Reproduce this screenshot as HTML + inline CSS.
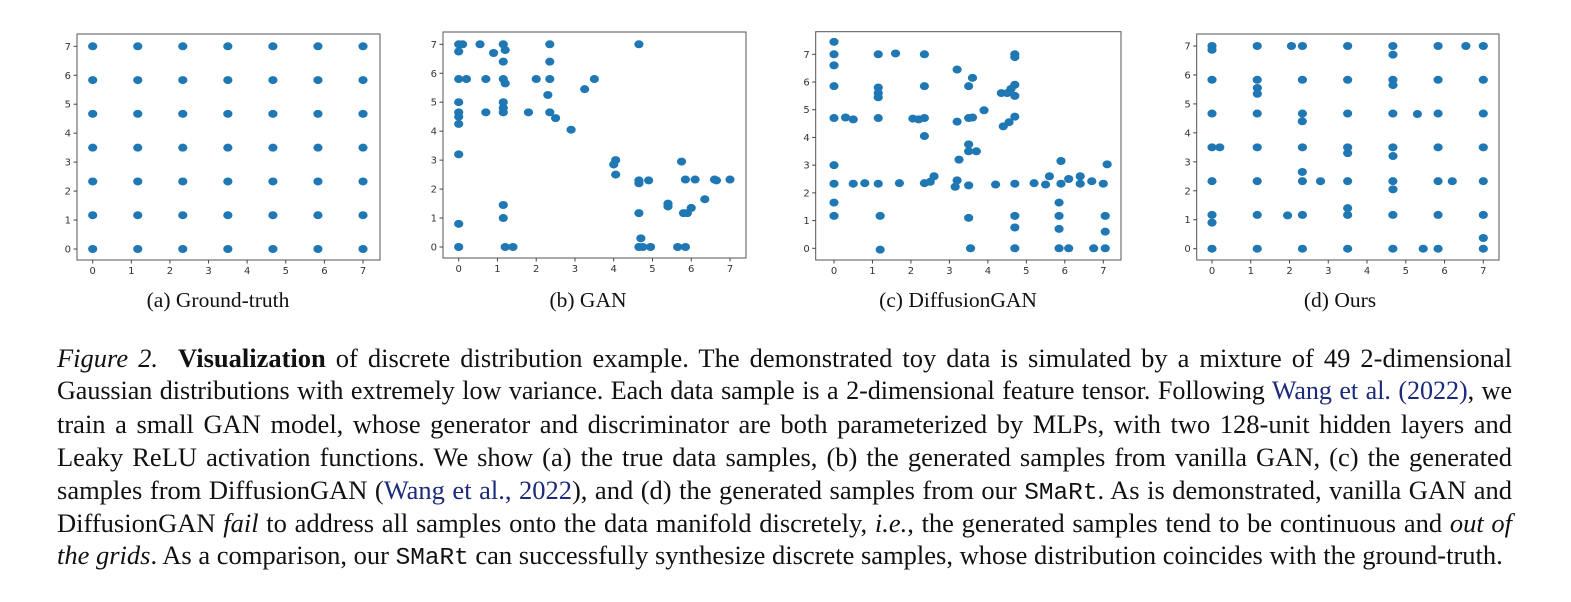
<!DOCTYPE html>
<html><head><meta charset="utf-8">
<style>
body{margin:0;background:#fff;width:1571px;height:602px;overflow:hidden;position:relative;font-family:"Liberation Serif",serif;}
#fig{position:absolute;left:0;top:0;}
.sub{position:absolute;font-size:21.5px;color:#111;transform:translateX(-50%);white-space:nowrap;top:288px;}
.ln{position:absolute;left:57px;width:1455px;font-size:26.5px;color:#111;white-space:nowrap;text-align:justify;text-align-last:justify;line-height:28px;}
.ln.last{text-align-last:left;}
.mono{font-family:"Liberation Mono",monospace;font-size:24.4px;}
.lk{color:#1b2a7a;}
</style></head><body>
<svg id="fig" width="1571" height="602"></svg>
<div class="sub" style="left:218px">(a) Ground-truth</div>
<div class="sub" style="left:588px">(b) GAN</div>
<div class="sub" style="left:958px">(c) DiffusionGAN</div>
<div class="sub" style="left:1340px">(d) Ours</div>
<div>
<div class="ln" style="top:344px"><i>Figure 2.</i>&nbsp; <b>Visualization</b> of discrete distribution example. The demonstrated toy data is simulated by a mixture of 49 2-dimensional</div>
<div class="ln" style="top:377px;font-size:26.1px;letter-spacing:-0.05px">Gaussian distributions with extremely low variance. Each data sample is a 2-dimensional feature tensor. Following <span class="lk">Wang et al. (2022)</span>, we</div>
<div class="ln" style="top:410px">train a small GAN model, whose generator and discriminator are both parameterized by MLPs, with two 128-unit hidden layers and</div>
<div class="ln" style="top:443px">Leaky ReLU activation functions. We show (a) the true data samples, (b) the generated samples from vanilla GAN, (c) the generated</div>
<div class="ln" style="top:476px">samples from DiffusionGAN (<span class="lk">Wang et al., 2022</span>), and (d) the generated samples from our <span class="mono">SMaRt</span>. As is demonstrated, vanilla GAN and</div>
<div class="ln" style="top:509px">DiffusionGAN <i>fail</i> to address all samples onto the data manifold discretely, <i>i.e.</i>, the generated samples tend to be continuous and <i>out of</i></div>
<div class="ln last" style="top:541px"><i>the grids</i>. As a comparison, our <span class="mono">SMaRt</span> can successfully synthesize discrete samples, whose distribution coincides with the ground-truth.</div>
</div>
<script>
const gridX=[0,1.167,2.333,3.5,4.667,5.833,7, 0,1.167,2.333,3.5,4.667,5.833,7, 0,1.167,2.333,3.5,4.667,5.833,7, 0,1.167,2.333,3.5,4.667,5.833,7, 0,1.167,2.333,3.5,4.667,5.833,7, 0,1.167,2.333,3.5,4.667,5.833,7, 0,1.167,2.333,3.5,4.667,5.833,7];
const gridY=[0,0,0,0,0,0,0, 1.167,1.167,1.167,1.167,1.167,1.167,1.167, 2.333,2.333,2.333,2.333,2.333,2.333,2.333, 3.5,3.5,3.5,3.5,3.5,3.5,3.5, 4.667,4.667,4.667,4.667,4.667,4.667,4.667, 5.833,5.833,5.833,5.833,5.833,5.833,5.833, 7,7,7,7,7,7,7];
const ganX=[0,0.1,0.55,1.15,2.35,4.65,0,1.2,0.9,1.15,2.35,0,0.2,0.7,1.15,2,2.35,1.2,3.5,3.25,2.3,0,1.15,0,0.7,1.15,1.8,2.35,1.15,0,0,2.5,2.9,0,4.05,4,4.05,4.65,4.65,4.9,5.85,6.1,6.6,6.65,7,5.75,6.35,5.4,5.4,6,4.65,5.8,5.9,1.15,1.15,0,4.7,0,1.2,1.4,4.65,4.75,4.95,5.65,5.85];
const ganY=[7,7,7,7,7,7,6.75,6.8,6.7,6.4,6.4,5.8,5.8,5.8,5.8,5.8,5.8,5.65,5.8,5.45,5.25,5,5,4.65,4.65,4.65,4.65,4.65,4.8,4.5,4.25,4.45,4.05,3.2,3,2.85,2.5,2.3,2.2,2.3,2.33,2.33,2.33,2.3,2.33,2.95,1.65,1.5,1.4,1.35,1.17,1.17,1.17,1.45,1,0.8,0.3,0,0,0,0,0,0,0,0];
const difX=[0,0,1.15,1.6,2.35,4.7,4.7,0,3.2,3.6,0,1.15,2.35,3.5,4.7,4.6,1.15,1.15,4.35,4.5,4.7,0,0.3,0.5,1.15,2.05,2.2,2.35,3.5,3.6,3.2,3.9,4.7,4.55,4.4,2.35,3.5,3.5,3.7,3.25,0,5.9,7.1,2.6,5.6,6.1,6.4,6.7,0,0.5,0.8,1.15,1.7,2.35,2.5,3.2,3.15,3.5,4.2,4.7,5.2,5.5,5.9,6.4,7,0,5.85,0,1.2,3.5,4.7,5.85,7.05,4.7,5.85,7.05,1.2,3.55,4.7,5.85,6.1,6.75,7.05];
const difY=[7.45,7,7,7.03,7,7,6.9,6.6,6.45,6.15,5.85,5.8,5.85,5.85,5.9,5.75,5.6,5.45,5.6,5.6,5.5,4.7,4.72,4.65,4.7,4.68,4.65,4.7,4.7,4.72,4.57,4.98,4.75,4.55,4.4,4.05,3.75,3.5,3.5,3.2,3,3.15,3.03,2.6,2.6,2.5,2.6,2.42,2.33,2.33,2.35,2.33,2.35,2.35,2.4,2.45,2.22,2.27,2.3,2.33,2.35,2.3,2.33,2.33,2.33,1.65,1.65,1.17,1.17,1.1,1.17,1.17,1.17,0.75,0.7,0.6,-0.05,0,0,0,0,0,0];
const oursX=gridX.concat([2.05,6.55,4.67,1.17,1.17,4.67,5.3,2.33,0.2,3.5,4.67,2.33,2.8,6.2,4.67,3.5,1.95,0,7,5.45,0]);
const oursY=gridY.concat([7,7,6.7,5.55,5.35,5.65,4.65,4.4,3.5,3.3,3.2,2.65,2.33,2.33,2.05,1.4,1.15,0.9,0.37,0,6.87]);
const ticks=[0,1,2,3,4,5,6,7];

const NS="http://www.w3.org/2000/svg";
const svg=document.getElementById('fig');
function mk(t,a,p){const e=document.createElementNS(NS,t);for(const k in a)e.setAttribute(k,a[k]);(p||svg).appendChild(e);return e;}
const panels=[
 {id:'a',box:[77,34,380,260],x0:92.7,x7:363,y0:249,y7:46.3,xs:gridX,ys:gridY},
 {id:'b',box:[443,32,746,258],x0:458.7,x7:730,y0:247,y7:44.3,xs:ganX,ys:ganY},
 {id:'c',box:[815.7,31.7,1121,260],x0:834,x7:1103.3,y0:248.3,y7:54.3,xs:difX,ys:difY},
 {id:'d',box:[1196.7,34,1499,260],x0:1212,x7:1483.3,y0:248.7,y7:46,xs:oursX,ys:oursY}
];
panels.forEach(p=>{
 const g=mk('g',{});
 
 
 const sx=v=>p.x0+(p.x7-p.x0)*v/7, sy=v=>p.y0+(p.y7-p.y0)*v/7;
 const [l,t,r,b]=p.box;
 for(let i=0;i<p.xs.length;i++){
  const c=mk('ellipse',{cx:sx(p.xs[i]),cy:sy(p.ys[i]),rx:4.6,ry:4,fill:'#1f77b4'},g);
  
  
 }
 const fr=mk('rect',{x:l,y:t,width:r-l,height:b-t,fill:'none',stroke:'#555','stroke-width':1},g);
 
 
 ticks.forEach(v=>{
  const X=sx(v),Y=sy(v);
  mk('line',{x1:X,x2:X,y1:b,y2:b+3.5,stroke:'#444'},g);
  const tx=mk('text',{x:X,y:b+14,'font-size':10,'text-anchor':'middle',fill:'#333','font-family':'DejaVu Sans, sans-serif'},g);
  tx.textContent=v;
  
  
  mk('line',{x1:l-3.5,x2:l,y1:Y,y2:Y,stroke:'#444'},g);
  const ty=mk('text',{x:l-6,y:Y+3.5,'font-size':10,'text-anchor':'end',fill:'#333','font-family':'DejaVu Sans, sans-serif'},g);
  ty.textContent=v;
  
  
 });
});
</script>
</body></html>
